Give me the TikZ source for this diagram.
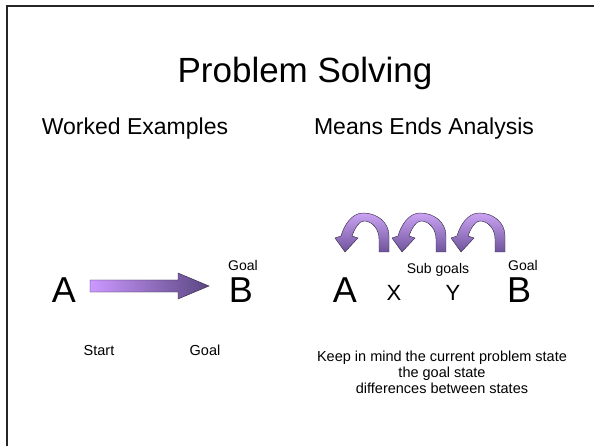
\documentclass[tikz,border=0pt]{standalone}
\usepackage{fontspec}
\setmainfont{Liberation Sans}
\usetikzlibrary{positioning}
\definecolor{vio}{HTML}{CC99FF}
\definecolor{vioDark}{HTML}{5A4682}
\definecolor{arcTop}{HTML}{CBA4F4}
\definecolor{arcBot}{HTML}{6F539C}
\definecolor{edge}{HTML}{2E2440}
\newcommand{\fsz}[1]{\fontsize{#1}{#1}\selectfont}

\begin{document}
\begin{tikzpicture}[x=1pt,y=1pt,inner sep=0.5pt,
  bigletter/.style={anchor=base,font=\fsz{36}},
  midletter/.style={anchor=base,font=\fsz{22}},
  head/.style={anchor=base,font=\fsz{23}},
  tag/.style={anchor=base,font=\fsz{14}},
  note/.style={anchor=base,font=\fsz{14.5}}]
  \useasboundingbox (0,0) rectangle (594,-446);
  \draw[line width=2pt,black!85] (7,-446)--(7,-6)--(594,-6);
  \node[anchor=base,font=\fsz{35}] (title) at (305,-83) {Problem Solving};
  \node[head] (worked) at (135,-135) {Worked Examples};
  \node[head] (means) at (424,-135) {Means Ends Analysis};
  % worked examples: straight from A to B
  \node[bigletter] (aL) at (64,-302) {A};
  \node[bigletter] (bL) at (241,-302) {B};
  \node[tag] (goalL) at (243,-271) {Goal};
  \shadedraw[left color=vio,right color=vioDark,draw=edge,line width=0.4pt]
    (90,-280)--(178,-280)--(178,-273)--(209,-286)--(178,-299)--(178,-292)--(90,-292)--cycle;
  \node[note] (start) at (99,-355) {Start};
  \node[note] (goalS) at (205,-355) {Goal};
  % means ends: hop back through the sub goals
  \node[bigletter] (aR) at (345,-302) {A};
  \node[midletter] (xR) at (394,-300) {X};
  \node[midletter] (yR) at (453,-300) {Y};
  \node[bigletter] (bR) at (519,-302) {B};
  \node[tag] (sub) at (438,-273) {Sub goals};
  \node[tag] (goalR) at (523,-271) {Goal};
  \foreach \ox in {335,392,451} {
    \shadedraw[top color=arcTop,bottom color=arcBot,draw=edge,line width=0.4pt]
      (\ox+54,-252)--(\ox+54,-236) .. controls (\ox+54,-222) and (\ox+42,-213) .. (\ox+28,-213)
      .. controls (\ox+17,-213) and (\ox+9,-225) .. (\ox+6,-236)
      --(\ox,-238)--(\ox+10,-252)--(\ox+23,-238)--(\ox+17,-236)
      .. controls (\ox+20,-228) and (\ox+24,-221) .. (\ox+29,-221)
      .. controls (\ox+37,-221) and (\ox+44,-229) .. (\ox+44,-239)--(\ox+44,-252)--cycle;}
  \node[note] (keep1) at (442,-361) {Keep in mind the current problem state};
  \node[note] (keep2) at (442,-377) {the goal state};
  \node[note] (keep3) at (442,-393) {differences between states};
\end{tikzpicture}
\end{document}
